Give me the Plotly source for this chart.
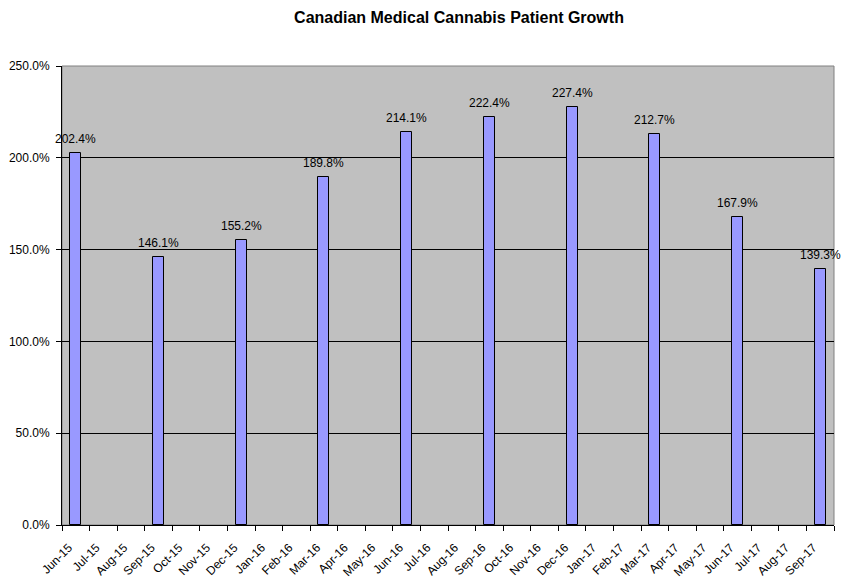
import plotly.graph_objects as go

months = ["Jun-15", "Jul-15", "Aug-15", "Sep-15", "Oct-15", "Nov-15", "Dec-15",
          "Jan-16", "Feb-16", "Mar-16", "Apr-16", "May-16", "Jun-16", "Jul-16",
          "Aug-16", "Sep-16", "Oct-16", "Nov-16", "Dec-16", "Jan-17", "Feb-17",
          "Mar-17", "Apr-17", "May-17", "Jun-17", "Jul-17", "Aug-17", "Sep-17"]
growth = [202.4, None, None, 146.1, None, None, 155.2,
          None, None, 189.8, None, None, 214.1, None,
          None, 222.4, None, None, 227.4, None, None,
          212.7, None, None, 167.9, None, None, 139.3]
y_ticks = [0, 50, 100, 150, 200, 250]

fig = go.Figure()
fig.add_trace(go.Bar(
    x=months, y=growth,
    marker=dict(color="#9999FF", line=dict(color="#000000", width=1)),
    width=0.4, showlegend=False,
))

for m, v in zip(months, growth):
    if v is None:
        continue
    fig.add_annotation(x=m, y=v, text=f"{v:.1f}%", showarrow=False,
                       xanchor="center", yanchor="middle", yshift=14,
                       font=dict(family="Liberation Sans, Arial", size=12, color="#000000"))

fig.update_layout(
    width=851, height=588,
    margin=dict(l=62, r=17, t=66, b=63),
    paper_bgcolor="#FFFFFF", plot_bgcolor="#C0C0C0",
    font=dict(family="Liberation Sans, Arial", size=12, color="#000000"),
    title=dict(text="<b>Canadian Medical Cannabis Patient Growth</b>",
               x=459/851, xanchor="center", y=1 - 17/588, yanchor="middle",
               automargin=False,
               font=dict(size=16, family="Liberation Sans, Arial", color="#000000")),
    bargap=0,
)
fig.update_xaxes(
    type="category", categoryorder="array", categoryarray=months,
    range=[-0.5, len(months) - 0.5],
    tickangle=-45, ticks="outside", ticklen=5, tickcolor="#000000",
    tickson="boundaries", showline=True, linecolor="#000000", linewidth=1,
    ticklabelstandoff=10, ticklabelshift=-7,
    showgrid=False, mirror=False, tickfont=dict(size=12), automargin=False,
)
fig.update_yaxes(
    range=[0, 250], tickvals=y_ticks, ticktext=[f"{v:.1f}%" for v in y_ticks],
    ticks="outside", ticklen=5, tickcolor="#000000", ticklabelstandoff=4,
    showline=True, linecolor="#000000", linewidth=1,
    showgrid=True, gridcolor="#000000", gridwidth=1, zeroline=False,
    tickfont=dict(size=12), automargin=False,
)
# plot area border (top/right)
fig.add_shape(type="rect", xref="paper", yref="paper", x0=0, y0=0, x1=1, y1=1,
              line=dict(color="#808080", width=1), layer="below")

fig.write_html("out.html", config={"displayModeBar": False},
               post_script="document.body.style.margin='0px';")
